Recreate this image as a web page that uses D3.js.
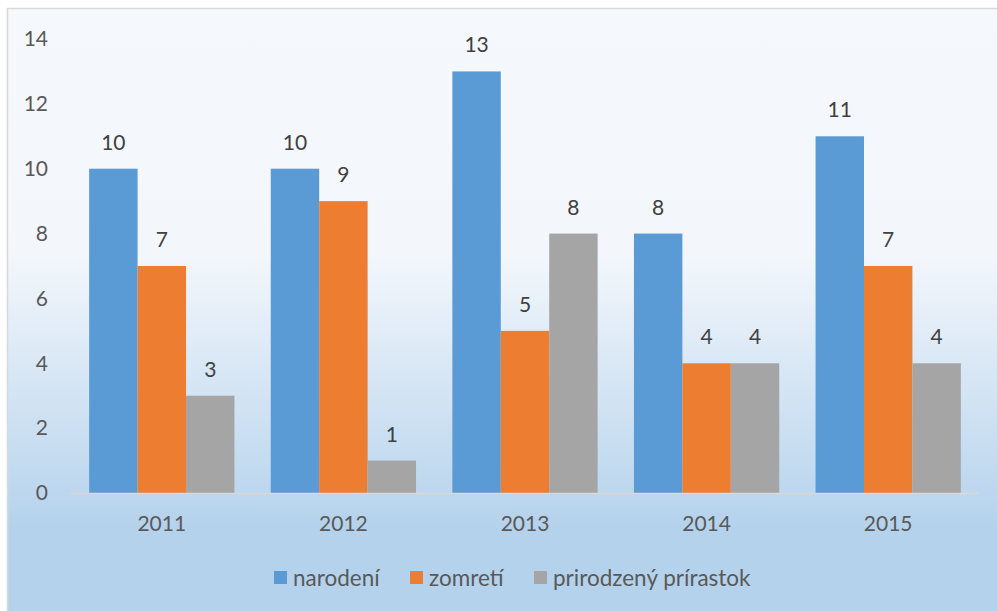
<!DOCTYPE html>
<html><head><meta charset="utf-8">
<script src="https://cdn.jsdelivr.net/npm/d3@7"></script>
<style>body{margin:0;background:#fff;}svg{display:block;}</style>
</head><body>
<script>
const years = ["2011","2012","2013","2014","2015"];
const seriesNames = ["narodení","zomretí","prirodzený prírastok"];
const narodeni = [10,10,13,8,11];
const zomreti = [7,9,5,4,7];
const prirastok = [3,1,8,4,4];
const yTicks = [0,2,4,6,8,10,12,14];
const colors = ["#5b9bd5","#ed7d31","#a5a5a5"];
const seriesValues = [narodeni, zomreti, prirastok];

const W = 997, H = 611;
const svg = d3.select("body").append("svg").attr("width", W).attr("height", H);
const defs = svg.append("defs");
const grad = defs.append("linearGradient").attr("id","bg").attr("x1",0).attr("y1",0).attr("x2",0).attr("y2",1);
grad.append("stop").attr("offset","0%").attr("stop-color","#f5f9fd");
grad.append("stop").attr("offset","40%").attr("stop-color","#f3f7fc");
grad.append("stop").attr("offset","85%").attr("stop-color","#b5d2ec");
grad.append("stop").attr("offset","100%").attr("stop-color","#b4d2eb");

svg.append("rect").attr("x",7.5).attr("y",8.5).attr("width",W).attr("height",H)
  .attr("fill","url(#bg)").attr("stroke","#d9d9d9").attr("stroke-width",1.5);

const font = "Lato, 'Open Sans', sans-serif";
const fs = 21;
const txt = "#595959";
const x0 = d3.scaleBand().domain(years).range([71, 979]).paddingInner(0.2).paddingOuter(0.1);
const x1 = d3.scaleBand().domain(d3.range(3)).range([0, x0.bandwidth()]);
const y = d3.scaleLinear().domain([0,14]).range([493, 39]);

// y labels
svg.append("g").selectAll("text").data(yTicks).join("text")
  .attr("x", 48).attr("y", d => y(d)).attr("dy","0.35em")
  .attr("text-anchor","end").attr("font-family",font).attr("font-size",fs).attr("fill",txt)
  .text(d => d);

// bars
const g = svg.append("g").selectAll("g").data(years).join("g")
  .attr("transform", d => `translate(${x0(d)},0)`);
g.selectAll("rect").data((d,i) => seriesValues.map((s,k) => ({k, v: s[i]}))).join("rect")
  .attr("x", d => x1(d.k)).attr("width", x1.bandwidth())
  .attr("y", d => y(d.v)).attr("height", d => y(0) - y(d.v))
  .attr("fill", d => colors[d.k]);
g.selectAll("text").data((d,i) => seriesValues.map((s,k) => ({k, v: s[i]}))).join("text")
  .attr("x", d => x1(d.k) + x1.bandwidth()/2).attr("y", d => y(d.v) - 19)
  .attr("text-anchor","middle").attr("font-family",font).attr("font-size",fs).attr("fill","#404040")
  .text(d => d.v);

// baseline
svg.append("line").attr("x1",71).attr("x2",979).attr("y1",493.5).attr("y2",493.5)
  .attr("stroke","#d9d9d9").attr("stroke-width",1.5);

// x labels
svg.append("g").selectAll("text").data(years).join("text")
  .attr("x", d => x0(d) + x0.bandwidth()/2).attr("y", 531)
  .attr("text-anchor","middle").attr("font-family",font).attr("font-size",fs).attr("fill",txt)
  .text(d => d);

// legend
const legX = [274, 410, 534];
const leg = svg.append("g").selectAll("g").data(seriesNames).join("g")
  .attr("transform", (d,i) => `translate(${legX[i]},571)`);
leg.append("rect").attr("width",13).attr("height",13).attr("fill",(d,i)=>colors[i]);
leg.append("text").attr("x",19).attr("y",7).attr("dy","0.35em")
  .attr("font-family",font).attr("font-size",22.5).attr("fill",txt).text(d=>d);
</script>
</body></html>
